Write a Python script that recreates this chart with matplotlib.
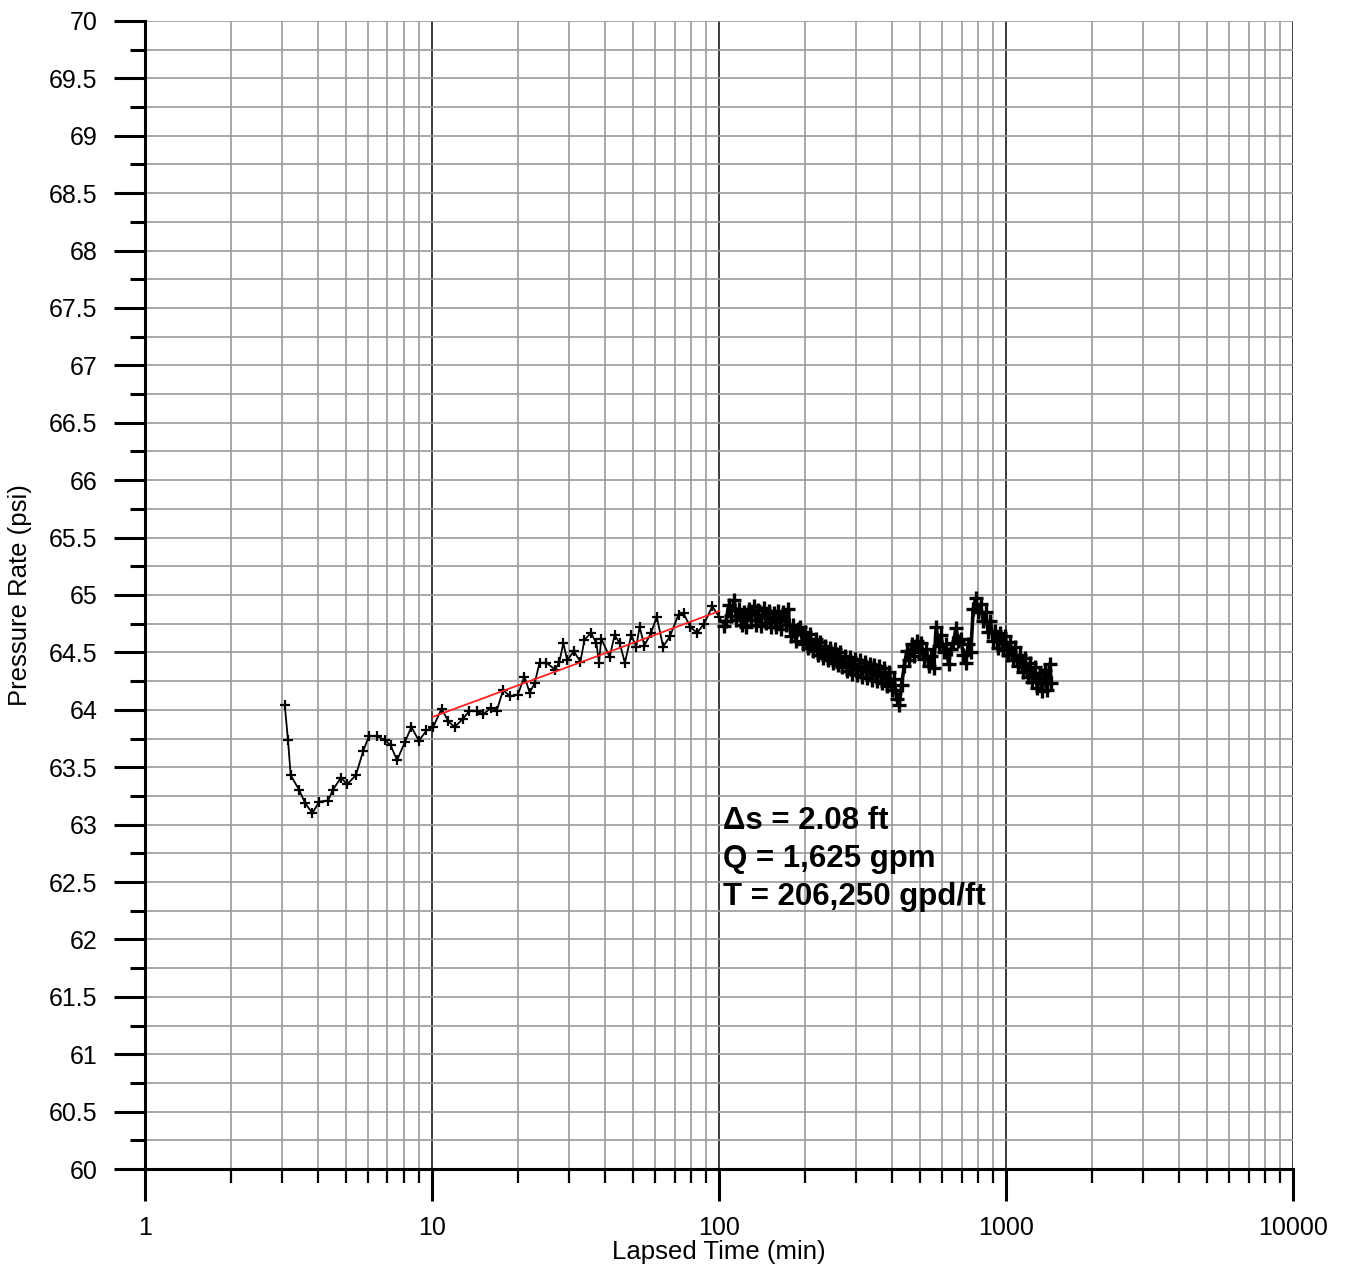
import matplotlib
matplotlib.use("Agg")
import matplotlib.pyplot as plt
from matplotlib.ticker import MultipleLocator, FixedLocator, FuncFormatter, LogLocator, NullFormatter

plt.rcParams['font.family'] = ['Liberation Sans', 'DejaVu Sans']

# early recovery (3 - 10 min)
early_t = [3.07, 3.15, 3.22, 3.45, 3.61, 3.83, 4.05, 4.35, 4.51, 4.82,
           5.06, 5.43, 5.76, 6.03, 6.41, 6.85, 7.18, 7.56, 8.05, 8.48,
           9.01, 9.57]
early_p = [64.04, 63.74, 63.43, 63.30, 63.19, 63.10, 63.20, 63.21, 63.30, 63.41,
           63.35, 63.43, 63.64, 63.77, 63.77, 63.74, 63.69, 63.56, 63.72, 63.85,
           63.73, 63.82]

# straight-line section (10 - 105 min)
mid_t = [10.1, 10.8, 11.4, 12.0, 12.8, 13.5, 14.3, 15.1, 16.1, 16.8,
         17.7, 18.7, 19.9, 21.0, 21.9, 22.8, 23.7, 25.0, 26.9, 27.8,
         28.7, 29.6, 31.2, 32.9, 34.0, 35.8, 37.4, 38.2, 38.9, 41.6,
         43.3, 45.1, 47.0, 49.5, 51.5, 52.9, 55.0, 58.0, 60.7, 63.9,
         67.5, 72.3, 75.3, 79.5, 84.0, 88.7, 94.8, 100.2, 104.5]
mid_p = [63.85, 64.01, 63.90, 63.85, 63.92, 63.99, 63.99, 63.96, 64.02, 63.99,
         64.17, 64.12, 64.13, 64.29, 64.15, 64.23, 64.41, 64.41, 64.35, 64.42,
         64.58, 64.43, 64.51, 64.42, 64.61, 64.67, 64.58, 64.41, 64.62, 64.46,
         64.65, 64.58, 64.41, 64.65, 64.55, 64.72, 64.56, 64.67, 64.81, 64.55,
         64.64, 64.83, 64.84, 64.72, 64.67, 64.75, 64.90, 64.81, 64.73]

# late record (105 - 1440 min)
late_t = [106, 108, 110, 113, 115, 117, 120, 122, 124, 127,
          129, 132, 135, 137, 140, 143, 146, 149, 152, 155,
          158, 161, 164, 167, 171, 174, 178, 181, 185, 189,
          192, 196, 200, 204, 208, 212, 217, 221, 225, 230,
          234, 239, 244, 249, 254, 259, 264, 269, 275, 280,
          286, 291, 297, 303, 309, 315, 322, 328, 335, 341,
          348, 355, 362, 370, 377, 385, 392, 400, 408, 416,
          425, 433, 442, 451, 460, 469, 478, 488, 497, 507,
          517, 528, 538, 549, 560, 571, 583, 594, 606, 618,
          631, 643, 656, 669, 683, 696, 710, 724, 739, 754,
          769, 784, 800, 816, 832, 849, 866, 883, 901, 919,
          937, 956, 975, 995, 1014, 1035, 1055, 1076, 1098, 1120,
          1142, 1165, 1189, 1212, 1237, 1261, 1286, 1312, 1338, 1365,
          1392, 1420, 1440]
late_p = [64.77, 64.91, 64.82, 64.96, 64.78, 64.88, 64.74, 64.85, 64.72, 64.88,
          64.78, 64.90, 64.74, 64.87, 64.73, 64.89, 64.76, 64.86, 64.72, 64.84,
          64.72, 64.86, 64.70, 64.85, 64.74, 64.88, 64.64, 64.74, 64.60, 64.70,
          64.72, 64.57, 64.68, 64.54, 64.66, 64.51, 64.62, 64.48, 64.59, 64.45,
          64.56, 64.43, 64.54, 64.41, 64.53, 64.39, 64.50, 64.37, 64.47, 64.34,
          64.46, 64.31, 64.44, 64.30, 64.43, 64.29, 64.42, 64.28, 64.40, 64.26,
          64.39, 64.25, 64.38, 64.23, 64.36, 64.21, 64.33, 64.17, 64.27, 64.09,
          64.04, 64.22, 64.38, 64.51, 64.43, 64.57, 64.47, 64.60, 64.50, 64.58,
          64.44, 64.53, 64.38, 64.47, 64.36, 64.72, 64.56, 64.65, 64.50, 64.57,
          64.40, 64.53, 64.58, 64.71, 64.60, 64.62, 64.48, 64.41, 64.57, 64.50,
          64.88, 64.97, 64.85, 64.92, 64.77, 64.85, 64.68, 64.77, 64.60, 64.69,
          64.54, 64.67, 64.52, 64.64, 64.48, 64.59, 64.43, 64.55, 64.38, 64.48,
          64.33, 64.45, 64.29, 64.41, 64.24, 64.37, 64.19, 64.32, 64.16, 64.35,
          64.17, 64.40, 64.23]

# semi-log fit through the straight-line section
fit_t = [10.1, 100.4]
fit_p = [63.94, 64.86]

notes = ["\u0394s = 2.08 ft", "Q = 1,625 gpm", "T = 206,250 gpd/ft"]

fig = plt.figure(figsize=(13.47, 12.70), dpi=100)
ax = fig.add_axes([0.1076, 0.0795, 0.8523, 0.9040])

ax.plot(early_t + mid_t, early_p + mid_p, color='black', lw=1.3,
        marker='+', ms=7, mew=1.6, zorder=3)
# logger record after 100 min is dense enough to read as a solid band
ax.plot(mid_t[-1:] + late_t, mid_p[-1:] + late_p, color='black', lw=2.6,
        marker='+', ms=10, mew=2.4, zorder=3)
ax.plot(fit_t, fit_p, color='#ff2020', lw=1.3, zorder=4)

ax.set_xscale('log')
ax.set_xlim(1, 10000)
ax.set_ylim(60, 70)

ax.xaxis.set_major_locator(FixedLocator([1, 10, 100, 1000, 10000]))
ax.xaxis.set_major_formatter(FuncFormatter(lambda v, pos: '%d' % v))
ax.xaxis.set_minor_locator(LogLocator(base=10, subs=range(2, 10), numticks=20))
ax.xaxis.set_minor_formatter(NullFormatter())
ax.yaxis.set_major_locator(MultipleLocator(0.5))
ax.yaxis.set_minor_locator(MultipleLocator(0.25))
ax.yaxis.set_major_formatter(FuncFormatter(lambda v, pos: '%g' % v))

ax.grid(True, axis='y', which='both', color='#9a9a9a', lw=1.2)
ax.grid(True, axis='x', which='minor', color='#9a9a9a', lw=1.2)
ax.grid(True, axis='x', which='major', color='#1a1a1a', lw=1.2)
ax.set_axisbelow(True)

for side in ('top', 'right'):
    ax.spines[side].set_visible(False)
for side in ('left', 'bottom'):
    ax.spines[side].set_linewidth(2.2)

ax.tick_params(axis='y', which='major', length=22, width=2.2, pad=12, labelsize=18)
ax.tick_params(axis='y', which='minor', length=11, width=2.2)
ax.tick_params(axis='x', which='major', length=23, width=2.2, pad=11, labelsize=18)
ax.tick_params(axis='x', which='minor', length=10, width=1.6)

ax.set_xlabel('Lapsed Time (min)', fontsize=18.5, labelpad=0)
ax.set_ylabel('Pressure Rate (psi)', fontsize=18.5, labelpad=12)

for i, s in enumerate(notes):
    ax.text(103, 63.03 - i * 0.33, s, fontsize=22.5, fontweight='bold',
            va='center', ha='left', zorder=5)

fig.savefig('out.png', dpi=100)
